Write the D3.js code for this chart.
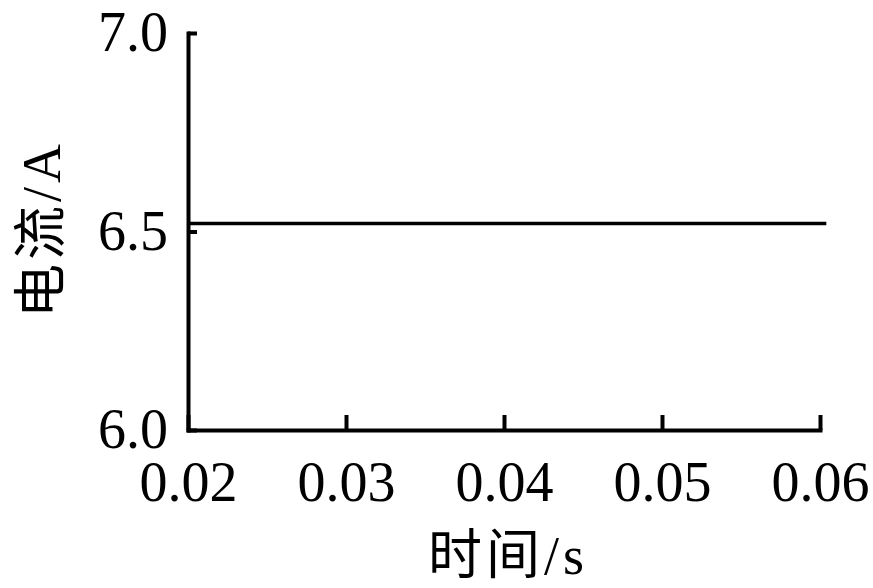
<!DOCTYPE html>
<html>
<head>
<meta charset="utf-8">
<script src="https://cdn.jsdelivr.net/npm/d3@7"></script>
<style>
  html, body { margin: 0; padding: 0; background: #fff; }
  svg { display: block; }
</style>
</head>
<body>
<svg id="chart" width="873" height="588"></svg>
<script>
// 数据：时间 (s) 与电流 (A)
const time = [0.02, 0.0604];
const current = [6.52, 6.52];
const xTicks = [0.02, 0.03, 0.04, 0.05, 0.06];
const yTicks = [6.0, 6.5, 7.0];
const xTitle = "时间/s";
const yTitle = "电流/A";

const svg = d3.select("#chart");
const font = "'Liberation Serif', 'Times New Roman', 'Noto Sans CJK SC', serif";

const x = d3.scaleLinear().domain([0.02, 0.06]).range([188, 820]);
const y = d3.scaleLinear().domain([6.0, 7.0]).range([430, 33]);

// x 轴，刻度朝上
const xAxis = svg.append("g")
  .attr("transform", `translate(0,${y(6.0)})`)
  .call(d3.axisBottom(x)
    .tickValues(xTicks)
    .tickSizeInner(-15)
    .tickSizeOuter(0)
    .tickPadding(31)
    .tickFormat(d3.format(".2f")));

// y 轴，刻度朝右
const yAxis = svg.append("g")
  .attr("transform", `translate(${x(0.02)},0)`)
  .call(d3.axisLeft(y)
    .tickValues(yTicks)
    .tickSizeInner(-9)
    .tickSizeOuter(0)
    .tickPadding(20)
    .tickFormat(d3.format(".1f")));

[xAxis, yAxis].forEach(g => {
  g.select(".domain").attr("stroke", "#000").attr("stroke-width", 4).attr("stroke-linecap", "square");
  g.selectAll(".tick line").attr("stroke", "#000").attr("stroke-width", 4);
  g.selectAll(".tick text")
    .attr("fill", "#000")
    .attr("font-family", font)
    .attr("font-size", 56);
});

// 电流曲线
const line = d3.line().x((d, i) => x(time[i])).y(d => y(d));
svg.append("path")
  .datum(current)
  .attr("d", line)
  .attr("fill", "none")
  .attr("stroke", "#000")
  .attr("stroke-width", 3.5);

// 坐标轴标题
svg.append("text")
  .attr("x", 508)
  .attr("y", 574)
  .attr("text-anchor", "middle")
  .attr("font-family", font)
  .attr("font-size", 54)
  .attr("letter-spacing", 4)
  .attr("fill", "#000")
  .text(xTitle);

svg.append("text")
  .attr("transform", "translate(60,229) rotate(-90)")
  .attr("text-anchor", "middle")
  .attr("font-family", font)
  .attr("font-size", 54)
  .attr("letter-spacing", 4)
  .attr("fill", "#000")
  .text(yTitle);
</script>
</body>
</html>
